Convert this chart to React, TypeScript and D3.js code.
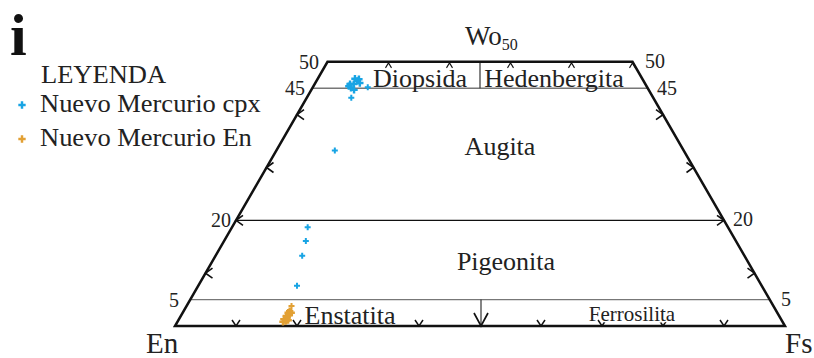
import React from 'react'
import * as d3 from 'd3'

const cpxWo = [46.4, 46.0, 46.8, 46.7, 45.8, 45.4, 45.8, 45.1, 44.7, 45.2, 43.2, 33.2, 18.7, 16.1, 13.3, 7.6]
const cpxFs = [6.7, 7.3, 6.1, 6.8, 6.4, 5.8, 5.8, 6.3, 7.0, 9.0, 7.3, 9.6, 12.4, 13.4, 14.2, 16.2]

const enWo = [3.8, 2.8, 2.5, 2.1, 1.9, 1.5, 1.3, 1.0, 0.8, 1.1, 2.5, 1.0, 1.7, 2.2]
const enFs = [17.2, 17.4, 17.3, 17.7, 17.3, 17.6, 17.2, 17.6, 17.3, 18.0, 17.8, 17.7, 17.5, 17.5]

const woLines = [5, 20, 45]
const woLabels = ['5', '20', '45', '50']
const sideTicks = [10, 20, 30, 40]
const baseTicks = [10, 20, 30, 40, 60, 70, 80, 90]
const topTicks = [10, 20, 30, 40, 50]

const legendItems = [
  { label: 'Nuevo Mercurio cpx', color: '#18a4e4' },
  { label: 'Nuevo Mercurio En', color: '#e2a034' },
]

const W = 814
const H = 358
const font = '"Liberation Serif", "Times New Roman", serif'

const App = () => {
  const side = 610
  const xScale = d3.scaleLinear().domain([0, 100]).range([175, 175 + side])
  const yScale = d3.scaleLinear().domain([0, 100]).range([326, 326 - side * Math.sqrt(3) / 2])

  // ternary -> pixel
  const px = (wo: number, fs: number) => xScale(fs + wo / 2)
  const py = (wo: number) => yScale(wo)

  const outline = d3.line()([
    [px(0, 0), py(0)],
    [px(0, 100), py(0)],
    [px(50, 50), py(50)],
    [px(50, 0), py(50)],
  ]) + 'Z'

  const cross = d3.symbol().type(d3.symbolCross).size(20)()
  const blob = d3.symbol().type(d3.symbolCross).size(30)()

  // arrowhead with apex at (x,y) pointing along (dx,dy); back = arm length along axis, half = spread
  const chevron = (x: number, y: number, dx: number, dy: number, back = 5, half = 5) => {
    const a = [x - dx * back - dy * half, y - dy * back - dx * half]
    const b = [x - dx * back + dy * half, y - dy * back + dx * half]
    return `M${a[0]},${a[1]}L${x},${y}L${b[0]},${b[1]}`
  }

  const halo = { paintOrder: 'stroke' as const, stroke: 'white', strokeWidth: 4 }
  const mid = xScale(50)

  return (
    <svg width={W} height={H} style={{ position: 'absolute', left: 0, top: 0, background: 'white' }} fontFamily={font}>
      {/* Wo lines */}
      {woLines.map(w => (
        <line key={w}
          x1={px(w, 0)} x2={px(w, 100 - w)} y1={py(w)} y2={py(w)}
          stroke={w === 20 ? '#111' : '#777'} strokeWidth={1.4} />
      ))}
      {/* En50 dividers */}
      <line x1={mid} x2={mid} y1={py(45)} y2={py(50)} stroke="#333" strokeWidth={1.2} />
      <line x1={mid + 1} x2={mid + 1} y1={py(5)} y2={py(0)} stroke="#333" strokeWidth={1.2} />

      {/* base / top ticks (partly masked by field names) */}
      {baseTicks.map(t => (
        <path key={'b' + t} d={chevron(xScale(t), py(0), 0, 1, 6, 4)} fill="none" stroke="#111" strokeWidth={1.5} />
      ))}
      {topTicks.map(t => (
        <path key={'t' + t} d={chevron(px(50, t), py(50) + 1, 0, -1, 5, 3)} fill="none" stroke="#111" strokeWidth={1.1} />
      ))}

      {/* field names */}
      <g fill="#222" fontSize={26}>
        <text x={420} y={87} textAnchor="middle">Diopsida</text>
        <text x={554} y={87} textAnchor="middle">Hedenbergita</text>
        <text x={500} y={155} textAnchor="middle">Augita</text>
        <text x={506} y={270} textAnchor="middle">Pigeonita</text>
        <text x={350} y={324} textAnchor="middle" style={halo}>Enstatita</text>
        <text x={632} y={321} textAnchor="middle" fontSize={21} style={{ ...halo, strokeWidth: 3 }}>Ferrosilita</text>
      </g>

      {/* outline */}
      <path d={outline} fill="none" stroke="#111" strokeWidth={2.5} strokeLinejoin="miter" />
      <path d={`M${mid - 6},${py(0) - 13}L${mid + 1},${py(0)}L${mid + 8},${py(0) - 13}`} fill="none" stroke="#111" strokeWidth={1.7} />
      {sideTicks.map(t => (
        <g key={'s' + t}>
          <path d={chevron(px(t, 0), py(t), -1, 0, 7, 5)} fill="none" stroke="#111" strokeWidth={1.6} />
          <path d={chevron(px(t, 100 - t), py(t), 1, 0, 7, 5)} fill="none" stroke="#111" strokeWidth={1.6} />
        </g>
      ))}

      {/* Wo labels */}
      <g fill="#222" fontSize={20}>
        {woLabels.map(l => {
          const w = +l
          const lx = { 5: 179, 20: 231, 45: 305, 50: 319 }[w]
          const rx = { 5: 781, 20: 733, 45: 657, 50: 645 }[w]
          return (
            <g key={l}>
              <text x={lx} y={py(w) + 7} textAnchor="end">{l}</text>
              <text x={rx} y={py(w) + (w === 45 ? 7 : 6)} textAnchor="start">{l}</text>
            </g>
          )
        })}
      </g>

      {/* end members */}
      <g fill="#222" fontSize={29}>
        <text x={146} y={353}>En</text>
        <text x={785} y={353}>Fs</text>
        <text x={465} y={45} fontSize={27}>Wo<tspan fontSize={16} dy={5}>50</tspan></text>
      </g>

      {/* data */}
      {cpxWo.map((w, i) => (
        <path key={'c' + i} d={i < 9 ? blob : cross} transform={`translate(${px(w, cpxFs[i])},${py(w)})`} fill={legendItems[0].color} />
      ))}
      {enWo.map((w, i) => (
        <path key={'e' + i} d={i === 0 ? cross : blob} transform={`translate(${px(w, enFs[i])},${py(w)})`} fill={legendItems[1].color} />
      ))}

      {/* panel letter + legend */}
      <text x={10} y={55} fontSize={60} fontWeight="bold" fill="#111">i</text>
      <text transform="translate(41,83) scale(1.06,1)" fontSize={25} fill="#222">LEYENDA</text>
      {legendItems.map((item, i) => (
        <g key={item.label} transform={`translate(0, ${i * 34})`}>
          <path d={blob} transform="translate(22,105)" fill={item.color} />
          <text transform="translate(40,112) scale(1.06,1)" fontSize={25} fill="#222">{item.label}</text>
        </g>
      ))}
    </svg>
  )
}

export default App
